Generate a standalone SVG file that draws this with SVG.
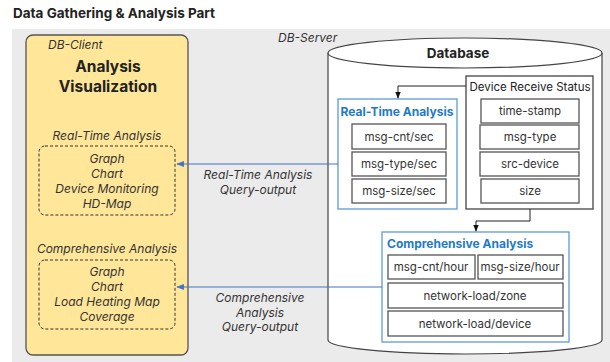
<svg xmlns="http://www.w3.org/2000/svg" width="610" height="362" viewBox="0 0 610 362">
  <style>
    text { font-family: Inter, "Noto Sans", sans-serif; fill: #222; }
    .it { font-style: italic; font-size: 12px; text-anchor: middle; fill: #333; }
    .itl { font-style: italic; font-size: 12px; fill: #333; }
    .cell { fill: #fff; stroke: #555; stroke-width: 1.3; }
    .ct { font-size: 11.5px; text-anchor: middle; fill: #333; }
    .blue { fill: #fff; stroke: #5B9BD5; stroke-width: 1.3; }
    .bt { font-weight: bold; font-size: 12px; fill: #1F7BC6; }
    .dash { fill: none; stroke: #333; stroke-width: 1; stroke-dasharray: 3 2; }
    .flow { fill: none; stroke: #222; stroke-width: 1; }
    .query { fill: none; stroke: #4472C4; stroke-width: 1.1; }
  </style>
  <defs>
    <marker id="ah" viewBox="0 0 10 10" refX="9" refY="5" markerWidth="7" markerHeight="7" orient="auto">
      <path d="M0,1 L10,5 L0,9 z" fill="#111"/>
    </marker>
    <marker id="ahb" viewBox="0 0 10 10" refX="9" refY="5" markerWidth="7" markerHeight="7" orient="auto">
      <path d="M0,1 L10,5 L0,9 z" fill="#4472C4"/>
    </marker>
  </defs>

  <rect x="0" y="0" width="610" height="362" fill="#fff"/>
  <text x="13" y="18" font-weight="bold" font-size="13.5px" fill="#111">Data Gathering &amp; Analysis Part</text>
  <rect x="12" y="29" width="598" height="333" fill="#EBEBEB"/>

  <!-- client side -->
  <g id="db-client">
    <rect x="26" y="35" width="162" height="320" rx="7" fill="#FFE699" stroke="#555" stroke-width="1.3"/>
    <text class="itl" x="48" y="49">DB-Client</text>
    <text x="108" y="72" font-weight="bold" font-size="15.5px" text-anchor="middle" fill="#111">Analysis</text>
    <text x="108" y="92" font-weight="bold" font-size="15.5px" text-anchor="middle" fill="#111">Visualization</text>
  </g>
  <g id="rt-view">
    <text class="it" x="107" y="140">Real-Time Analysis</text>
    <rect class="dash" x="39" y="146" width="136" height="69" rx="6"/>
    <text class="it" x="107" y="163">Graph</text>
    <text class="it" x="107" y="178">Chart</text>
    <text class="it" x="107" y="193">Device Monitoring</text>
    <text class="it" x="107" y="208">HD-Map</text>
  </g>
  <g id="comp-view">
    <text class="it" x="107" y="253">Comprehensive Analysis</text>
    <rect class="dash" x="39" y="260" width="136" height="69" rx="6"/>
    <text class="it" x="107" y="276">Graph</text>
    <text class="it" x="107" y="291">Chart</text>
    <text class="it" x="107" y="306">Load Heating Map</text>
    <text class="it" x="107" y="321">Coverage</text>
  </g>

  <!-- server side -->
  <text class="itl" x="278" y="42">DB-Server</text>
  <g id="database">
    <path d="M328,53 L328,340 A137,14 0 0 0 602,340 L602,53" fill="#fff" stroke="#444" stroke-width="1.2"/>
    <ellipse cx="465" cy="53" rx="137" ry="15" fill="#fff" stroke="#444" stroke-width="1.2"/>
    <text x="458" y="58" font-weight="bold" font-size="13.5px" text-anchor="middle" fill="#111">Database</text>
  </g>

  <g id="device-receive-status">
    <rect x="466" y="76" width="127" height="133" fill="#fff" stroke="#444" stroke-width="1.3"/>
    <text x="530" y="91" font-size="11.5px" text-anchor="middle" fill="#333">Device Receive Status</text>
    <rect class="cell" x="481" y="99" width="98" height="24"/>
    <text class="ct" x="530" y="115">time-stamp</text>
    <rect class="cell" x="480" y="125" width="99" height="24"/>
    <text class="ct" x="530" y="141">msg-type</text>
    <rect class="cell" x="480" y="152" width="99" height="24"/>
    <text class="ct" x="530" y="168">src-device</text>
    <rect class="cell" x="481" y="179" width="98" height="24"/>
    <text class="ct" x="530" y="195">size</text>
  </g>

  <g id="real-time-analysis">
    <rect class="blue" x="338" y="99" width="119" height="110"/>
    <text class="bt" x="397" y="116" text-anchor="middle">Real-Time Analysis</text>
    <rect class="cell" x="352" y="124" width="94" height="25"/>
    <text class="ct" x="399" y="141">msg-cnt/sec</text>
    <rect class="cell" x="352" y="152" width="94" height="24"/>
    <text class="ct" x="399" y="168">msg-type/sec</text>
    <rect class="cell" x="352" y="179" width="94" height="24"/>
    <text class="ct" x="399" y="195">msg-size/sec</text>
  </g>

  <g id="comprehensive-analysis">
    <rect class="blue" x="382" y="232" width="187" height="110"/>
    <text class="bt" x="387" y="248">Comprehensive Analysis</text>
    <rect class="cell" x="388" y="255" width="87" height="24"/>
    <text class="ct" x="431" y="271">msg-cnt/hour</text>
    <rect class="cell" x="478" y="255" width="85" height="24"/>
    <text class="ct" x="520" y="271">msg-size/hour</text>
    <rect class="cell" x="388" y="283" width="175" height="25"/>
    <text class="ct" x="475" y="300">network-load/zone</text>
    <rect class="cell" x="388" y="311" width="175" height="25"/>
    <text class="ct" x="475" y="328">network-load/device</text>
  </g>

  <g id="connectors">
    <path class="flow" d="M466,86 L398,86 L398,98" marker-end="url(#ah)"/>
    <path class="flow" d="M530,209 L530,221 L476,221 L476,231" marker-end="url(#ah)"/>
    <path class="query" d="M338,164 L177,164" marker-end="url(#ahb)"/>
    <path class="query" d="M382,287 L177,287" marker-end="url(#ahb)"/>
    <text class="it" x="258" y="179">Real-Time Analysis</text>
    <text class="it" x="258" y="194">Query-output</text>
    <text class="it" x="260" y="302">Comprehensive</text>
    <text class="it" x="260" y="317">Analysis</text>
    <text class="it" x="260" y="331">Query-output</text>
  </g>
</svg>
